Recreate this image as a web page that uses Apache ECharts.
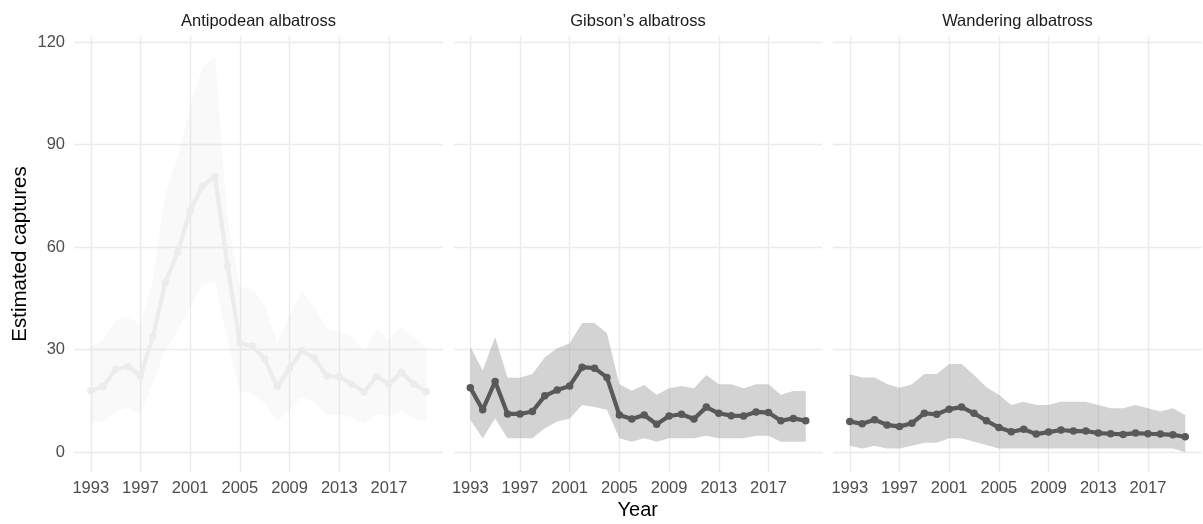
<!DOCTYPE html>
<html>
<head>
<meta charset="utf-8">
<script src="https://cdn.jsdelivr.net/npm/echarts@6/dist/echarts.min.js"></script>
<style>
  html, body { margin: 0; padding: 0; background: #ffffff; }
  #chart { width: 1203px; height: 524px; }
</style>
</head>
<body>
<div id="chart"></div>
<script>
// Estimated seabird captures per year, with uncertainty bands, by species
const years = [1993, 1994, 1995, 1996, 1997, 1998, 1999, 2000, 2001, 2002, 2003, 2004, 2005, 2006,
               2007, 2008, 2009, 2010, 2011, 2012, 2013, 2014, 2015, 2016, 2017, 2018, 2019, 2020];
const species = ["Antipodean albatross", "Gibson\u2019s albatross", "Wandering albatross"];

const antipodeanMean  = [18.0, 19.2, 24.3, 25.1, 22.3, 33.8, 49.7, 58.5, 70.7, 77.9, 80.7, 54.6, 31.9, 31.1,
                         27.3, 19.2, 24.6, 29.7, 27.5, 22.3, 22.1, 20.0, 17.6, 22.1, 20.0, 23.3, 20.0, 17.7];
const antipodeanUpper = [30.9, 32.9, 38.7, 39.7, 37.3, 50.4, 75.8, 86.5, 101.0, 112.8, 115.8, 68.0, 48.5, 47.7,
                         43.1, 31.9, 40.2, 47.0, 42.6, 36.3, 35.3, 33.8, 29.5, 36.0, 32.9, 36.8, 33.8, 30.4];
const antipodeanLower = [8.5, 9.0, 11.9, 12.9, 11.4, 20.2, 29.9, 35.8, 42.6, 49.0, 49.9, 33.0, 17.7, 17.1,
                         14.3, 9.0, 12.4, 16.1, 14.8, 10.9, 10.9, 10.2, 8.3, 11.2, 10.4, 12.1, 9.9, 9.0];

const gibsonMean  = [18.9, 12.4, 20.7, 11.2, 11.2, 11.9, 16.5, 18.2, 19.4, 24.9, 24.6, 21.9, 10.9, 9.7,
                     10.9, 8.2, 10.6, 11.1, 9.7, 13.2, 11.4, 10.7, 10.6, 11.8, 11.6, 9.2, 9.9, 9.2];
const gibsonUpper = [30.9, 23.9, 33.7, 21.8, 21.8, 22.9, 27.8, 30.4, 31.9, 37.8, 37.8, 34.8, 19.9, 18.0,
                     19.7, 16.8, 18.7, 19.4, 18.7, 22.6, 19.9, 19.9, 18.7, 19.9, 19.9, 16.8, 17.9, 17.9];
const gibsonLower = [9.5, 4.1, 9.9, 4.1, 4.1, 4.1, 7.0, 9.0, 9.9, 13.8, 13.2, 12.4, 4.1, 3.1,
                     4.1, 3.1, 4.1, 4.1, 4.1, 4.8, 4.1, 4.1, 4.1, 4.8, 4.8, 3.1, 3.1, 3.1];

const wanderingMean  = [9.0, 8.3, 9.5, 8.0, 7.5, 8.5, 11.4, 11.1, 12.6, 13.2, 11.4, 9.2, 7.2, 6.0,
                        6.7, 5.3, 5.9, 6.5, 6.2, 6.2, 5.6, 5.4, 5.2, 5.6, 5.4, 5.3, 5.1, 4.5];
const wanderingUpper = [22.8, 21.9, 21.9, 20.0, 18.9, 19.9, 22.9, 22.9, 25.8, 25.8, 22.6, 19.0, 16.8, 13.8,
                        14.8, 13.8, 13.8, 14.8, 14.8, 14.8, 13.8, 12.9, 12.9, 13.8, 12.9, 11.9, 12.9, 10.9];
const wanderingLower = [1.9, 1.1, 1.9, 1.1, 1.1, 1.9, 2.8, 2.8, 4.1, 4.1, 3.1, 2.1, 1.1, 1.1,
                        1.1, 1.1, 1.1, 1.1, 1.1, 1.1, 1.1, 1.1, 1.1, 1.1, 1.1, 1.1, 1.1, 0.0];

const xTicks = [1993, 1997, 2001, 2005, 2009, 2013, 2017];
const yTicks = [0, 30, 60, 90, 120];

const panels = [
  { name: species[0], mean: antipodeanMean, upper: antipodeanUpper, lower: antipodeanLower,
    line: '#ececec', band: 'rgba(210,210,210,0.14)' },
  { name: species[1], mean: gibsonMean, upper: gibsonUpper, lower: gibsonLower,
    line: '#595959', band: 'rgba(150,150,150,0.42)' },
  { name: species[2], mean: wanderingMean, upper: wanderingUpper, lower: wanderingLower,
    line: '#595959', band: 'rgba(150,150,150,0.42)' }
];

const FONT = '"Liberation Sans", Arial, Helvetica, sans-serif';
const TICK_SIZE = 16.5;
const panelLeft = [74, 453.5, 833];
const panelWidth = 369;
const panelTop = 36.7;
const panelHeight = 435;

const grids = [], xAxes = [], yAxes = [], series = [], graphics = [];

panels.forEach((p, i) => {
  grids.push({ left: panelLeft[i], top: panelTop, width: panelWidth, height: panelHeight,
               containLabel: false, outerBoundsMode: 'none' });
  xAxes.push({
    type: 'value', gridIndex: i, min: 1991.65, max: 2021.35,
    axisLine: { show: false, onZero: false },
    axisTick: { show: false, customValues: xTicks },
    axisLabel: { customValues: xTicks, color: '#4d4d4d', fontSize: TICK_SIZE, fontFamily: FONT, margin: 8,
                 formatter: v => String(v) },
    splitLine: { show: true, lineStyle: { color: '#ebebeb', width: 1.4 } }
  });
  yAxes.push({
    type: 'value', gridIndex: i, min: -5.7, max: 121.6,
    axisLine: { show: false },
    axisTick: { show: false, customValues: yTicks },
    axisLabel: { show: i === 0, customValues: yTicks, color: '#4d4d4d', fontSize: TICK_SIZE, fontFamily: FONT, margin: 9 },
    splitLine: { show: true, lineStyle: { color: '#ebebeb', width: 1.4 } }
  });

  // uncertainty ribbon: polygon along the upper bound and back along the lower bound
  series.push({
    type: 'custom', xAxisIndex: i, yAxisIndex: i, silent: true, z: 2,
    data: [[years[0], p.lower[0]]],
    renderItem: (params, api) => {
      const pts = [];
      years.forEach((yr, k) => pts.push(api.coord([yr, p.upper[k]])));
      for (let k = years.length - 1; k >= 0; k--) pts.push(api.coord([years[k], p.lower[k]]));
      return { type: 'polygon', shape: { points: pts }, style: { fill: p.band } };
    }
  });
  series.push({
    type: 'line', xAxisIndex: i, yAxisIndex: i, silent: true, z: 3,
    data: years.map((yr, k) => [yr, p.mean[k]]),
    symbol: 'circle', symbolSize: 7.5, showSymbol: true,
    itemStyle: { color: p.line },
    lineStyle: { color: p.line, width: 4.2 }
  });

  graphics.push({
    type: 'text', x: panelLeft[i] + panelWidth / 2, y: 21,
    style: { text: p.name, font: '16.5px ' + FONT, fill: '#1a1a1a', align: 'center', verticalAlign: 'middle' }
  });
});

graphics.push({
  type: 'text', x: 637.8, y: 510,
  style: { text: 'Year', font: '20px ' + FONT, fill: '#000000', align: 'center', verticalAlign: 'middle' }
});
graphics.push({
  type: 'text', x: 20, y: 254, rotation: Math.PI / 2,
  style: { text: 'Estimated captures', font: '20.5px ' + FONT, fill: '#000000', align: 'center', verticalAlign: 'middle' }
});

const chart = echarts.init(document.getElementById('chart'), null, { renderer: 'canvas' });
chart.setOption({
  animation: false,
  backgroundColor: '#ffffff',
  grid: grids,
  xAxis: xAxes,
  yAxis: yAxes,
  series: series,
  graphic: graphics
});
</script>
</body>
</html>
